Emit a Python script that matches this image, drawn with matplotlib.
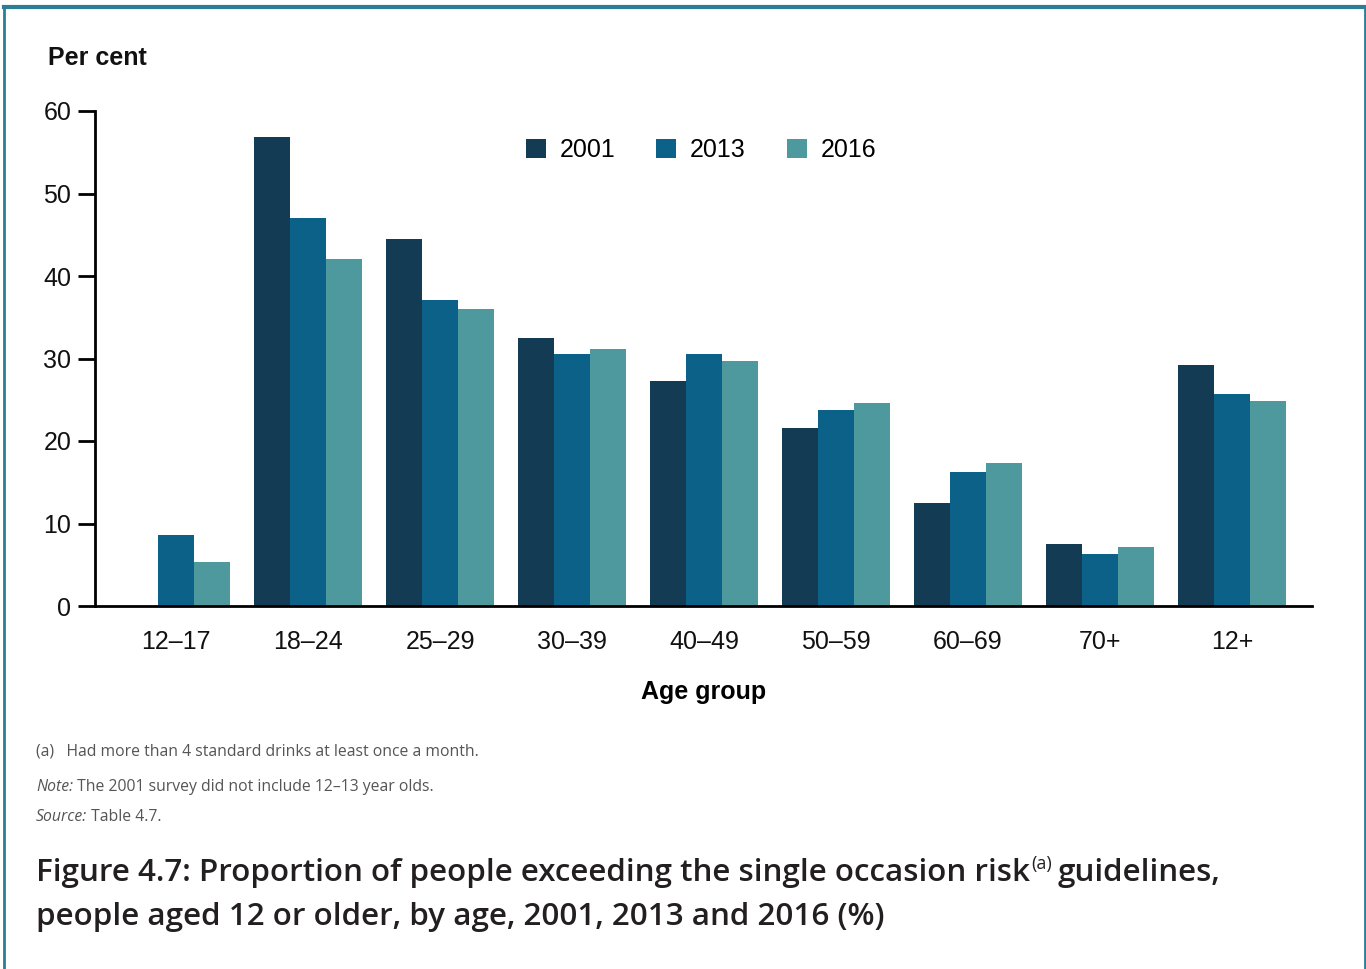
import matplotlib
matplotlib.use("Agg")
import matplotlib.pyplot as plt
import numpy as np
from matplotlib.lines import Line2D

categories = ["12–17", "18–24", "25–29", "30–39", "40–49", "50–59", "60–69", "70+", "12+"]
years = ["2001", "2013", "2016"]
v2001 = [np.nan, 56.8, 44.5, 32.5, 27.3, 21.6, 12.5, 7.5, 29.2]
v2013 = [8.6, 47.0, 37.1, 30.5, 30.5, 23.8, 16.2, 6.3, 25.7]
v2016 = [5.3, 42.1, 36.0, 31.2, 29.7, 24.6, 17.3, 7.2, 24.8]
series = [v2001, v2013, v2016]
colors = ["#133b54", "#0b6188", "#4d999e"]
yticks = [0, 10, 20, 30, 40, 50, 60]

W, H = 1366, 969
fig = plt.figure(figsize=(W / 100, H / 100), dpi=100)
ax = fig.add_axes([95 / W, 1 - 606 / H, (1312 - 95) / W, (606 - 111) / H])

x = np.arange(len(categories))
bw = 36 / 132
for i, (vals, c, yr) in enumerate(zip(series, colors, years)):
    ax.bar(x + (i - 1) * bw, vals, width=bw, color=c, label=yr, linewidth=0)

ax.set_xlim(-0.614, 8.606)
ax.set_ylim(0, 60)
ax.set_yticks(yticks)
ax.set_xticks(x)
ax.set_xticklabels(categories)
font = "Liberation Sans"
fs = 18
for lab in ax.get_xticklabels() + ax.get_yticklabels():
    lab.set_fontfamily(font)
    lab.set_fontsize(fs)
    lab.set_color("#111111")
ax.tick_params(axis="x", length=0, pad=17)
ax.tick_params(axis="y", length=12, width=2, pad=5, direction="out")
ax.spines["top"].set_visible(False)
ax.spines["right"].set_visible(False)
ax.spines["left"].set_linewidth(2)
ax.spines["bottom"].set_linewidth(2)

ax.set_xlabel("Age group", fontfamily=font, fontsize=fs, fontweight="bold", labelpad=19)
fig.text(48 / W, 1 - 58 / H, "Per cent", fontfamily=font, fontsize=fs, fontweight="bold",
         ha="left", va="center", color="#111111")

leg = ax.legend(loc="upper center", bbox_to_anchor=(0.498, 0.99), ncol=3, frameon=False,
                prop={"family": font, "size": fs}, handlelength=0.8, handleheight=0.8,
                columnspacing=1.65, handletextpad=0.55)

# border
border_c = "#2b7e96"
fig.add_artist(Line2D([4 / W, 4 / W], [0, 1 - 7 / H], transform=fig.transFigure, color=border_c, lw=2))
fig.add_artist(Line2D([4 / W, 1365 / W], [1 - 7 / H, 1 - 7 / H], transform=fig.transFigure, color=border_c, lw=3))
fig.add_artist(Line2D([1365 / W, 1365 / W], [0, 1 - 7 / H], transform=fig.transFigure, color=border_c, lw=2))

# footnotes
nfont = "Open Sans"
gray = "#555555"
fig.canvas.draw()
r = fig.canvas.get_renderer()

def pieces(x0, y, parts, **kw):
    xx = x0
    for txt, style in parts:
        t = fig.text(xx, y, txt, style=style, **kw)
        bb = t.get_window_extent(renderer=r)
        xx += bb.width / W

fig.text(36 / W, 1 - 751 / H, "(a)   Had more than 4 standard drinks at least once a month.",
         fontfamily=nfont, fontsize=11.3, color=gray, va="center")
pieces(36 / W, 1 - 787 / H, [("Note:", "italic"), (" The 2001 survey did not include 12–13 year olds.", "normal")],
       fontfamily=nfont, fontsize=11.3, color=gray, va="center")
pieces(36 / W, 1 - 817 / H, [("Source:", "italic"), (" Table 4.7.", "normal")],
       fontfamily=nfont, fontsize=11.3, color=gray, va="center")

tfont = "Open Sans"
tcol = "#231f20"
tfs = 22.6
t1 = fig.text(36 / W, 1 - 873 / H, "Figure 4.7: Proportion of people exceeding the single occasion risk",
              fontfamily=tfont, fontsize=tfs, fontweight="semibold", color=tcol, va="center")
bb = t1.get_window_extent(renderer=r)
sup = fig.text(bb.x1 / W + 1 / W, 1 - 864 / H, "(a)", fontfamily=tfont, fontsize=13, color=tcol, va="center")
bb2 = sup.get_window_extent(renderer=r)
fig.text(bb2.x1 / W + 6 / W, 1 - 873 / H, "guidelines,", fontfamily=tfont, fontsize=tfs,
         fontweight="semibold", color=tcol, va="center")
fig.text(36 / W, 1 - 917 / H, "people aged 12 or older, by age, 2001, 2013 and 2016 (%)",
         fontfamily=tfont, fontsize=tfs, fontweight="semibold", color=tcol, va="center")

fig.savefig("out.png", dpi=100)
